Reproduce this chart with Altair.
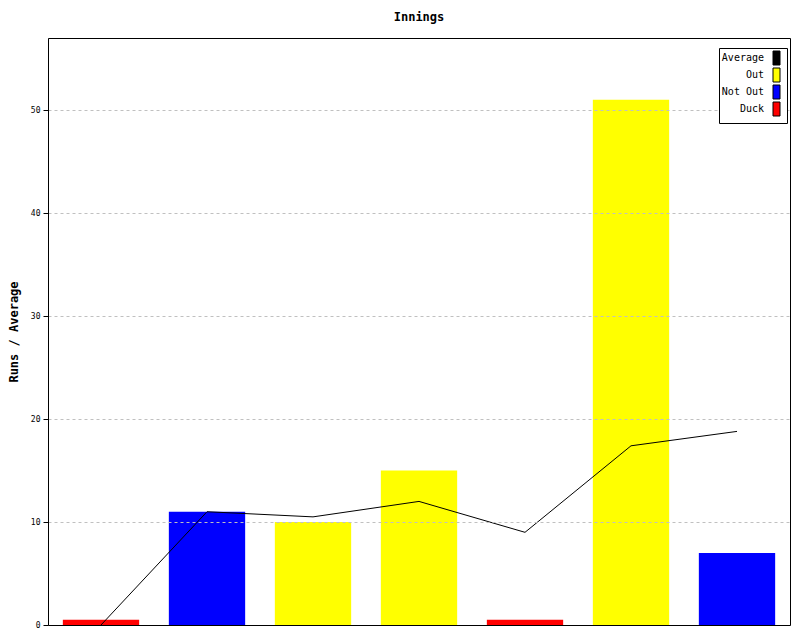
import altair as alt
import pandas as pd

innings = [1, 2, 3, 4, 5, 6, 7]
runs = [0.5, 11, 10, 15, 0.5, 51, 7]
kinds = ["Duck", "Not Out", "Out", "Out", "Duck", "Out", "Not Out"]
average = [0, 11, 10.5, 12, 9, 17.4, 18.8]
legend_order = ["Average", "Out", "Not Out", "Duck"]
legend_colors = ["#000000", "#ffff00", "#0000ff", "#ff0000"]
y_ticks = [0, 10, 20, 30, 40, 50]

df = pd.DataFrame({"Innings": innings, "Runs": runs, "Type": kinds, "Average": average})

FONT = "DejaVu Sans Mono"
BLANK = "\u2800"

band = alt.Scale(paddingInner=0.28, paddingOuter=0.14)
y_scale = alt.Scale(domain=[0, 57], nice=False, zero=True)

bars = alt.Chart(df).mark_bar().encode(
    x=alt.X(
        "Innings:O",
        scale=band,
        axis=alt.Axis(labels=False, ticks=False, title=None, domain=True,
                      domainColor="#000000", grid=False, orient="bottom", zindex=1),
    ),
    y=alt.Y(
        "Runs:Q",
        scale=y_scale,
        axis=alt.Axis(
            values=y_ticks,
            orient="left",
            title="Runs / Average",
            titleFont=FONT,
            titleFontSize=12,
            titleFontWeight="bold",
            titleColor="#000000",
            titlePadding=10,
            labelFont=FONT,
            labelFontSize=8,
            labelColor="#000000",
            labelPadding=3,
            tickSize=5,
            tickColor="#000000",
            domainColor="#000000",
            grid=True,
            gridDash=[3, 3],
            gridColor="#c0c0c0",
            zindex=1,
        ),
    ),
    color=alt.Color(
        "Type:N",
        scale=alt.Scale(domain=legend_order, range=legend_colors),
        legend=alt.Legend(
            title=None,
            orient="none",
            legendX=671,
            legendY=10,
            padding=5,
            zindex=2,
            strokeColor="#000000",
            fillColor="#ffffff",
            labelFont=FONT,
            labelFontSize=10,
            labelColor="#000000",
            labelAlign="right",
            labelOffset=44,
            labelExpr="pad(datum.label, 7, '" + BLANK + "', 'left') + '" + BLANK * 2 + "'",
            symbolType="M44,-7H51V7H44Z",
            symbolSize=4,
            symbolStrokeColor="#000000",
            symbolStrokeWidth=1,
            symbolOpacity=1,
            rowPadding=-1,
        ),
    ),
)

line = alt.Chart(df).mark_line(color="#000000", strokeWidth=1).encode(
    x=alt.X(
        "Innings:O",
        scale=band,
        axis=alt.Axis(labels=False, ticks=False, title=None, domain=True,
                      domainColor="#000000", grid=False, orient="top"),
    ),
    y=alt.Y(
        "Average:Q",
        scale=y_scale,
        axis=alt.Axis(labels=False, ticks=False, title=None, domain=True,
                      domainColor="#000000", grid=False, orient="right"),
    ),
)

chart = (
    alt.layer(bars, line)
    .resolve_axis(x="independent", y="independent")
    .properties(
        width=742,
        height=587,
        title=alt.TitleParams(
            "Innings",
            font=FONT,
            fontSize=12,
            fontWeight="bold",
            color="#000000",
            anchor="middle",
            offset=14,
        ),
        autosize=alt.AutoSizeParams(type="none"),
        padding={"left": 40, "top": 30, "right": 2, "bottom": 7},
    )
    .configure_view(strokeWidth=0)
    .configure(background="#ffffff")
)

chart.save("out.html", embed_options={"renderer": "svg", "actions": False})
